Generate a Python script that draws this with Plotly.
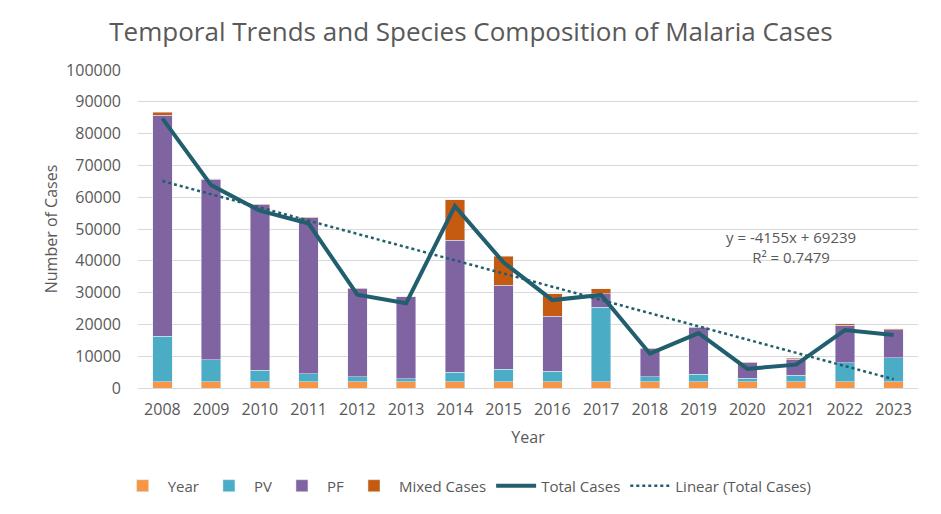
import plotly.graph_objects as go

years = [2008, 2009, 2010, 2011, 2012, 2013, 2014, 2015, 2016, 2017, 2018, 2019, 2020, 2021, 2022, 2023]
pv = [14300, 6800, 3650, 2400, 1550, 820, 3000, 3860, 3200, 23400, 1540, 2270, 1120, 1950, 5920, 7490]
pf = [69500, 56900, 52000, 49200, 27700, 25800, 41500, 26400, 17350, 4200, 8780, 14840, 4800, 5000, 11800, 8880]
mixed = [840, 100, 100, 100, 80, 60, 12700, 9200, 7100, 1670, 200, 150, 100, 400, 500, 300]
total = [84800, 63800, 55750, 51700, 29330, 26680, 57200, 39460, 27650, 29270, 10800, 17260, 6020, 7350, 18220, 16670]
# Excel linear trendline endpoints (y = -4155x + 69239, x = 1..16)
trend_x = [2008, 2023]
trend_y = [65084, 2759]

cats = [str(y) for y in years]
font = "'Open Sans', sans-serif"
grey = "#595959"

fig = go.Figure()
fig.add_trace(go.Bar(x=cats, y=years, name="Year", marker_color="#F79646"))
fig.add_trace(go.Bar(x=cats, y=pv, name="PV", marker_color="#4BACC6"))
fig.add_trace(go.Bar(x=cats, y=pf, name="PF", marker_color="#8064A2"))
fig.add_trace(go.Bar(x=cats, y=mixed, name="Mixed Cases", marker_color="#C55A11"))
fig.add_trace(go.Scatter(x=cats, y=total, name="Total Cases", mode="lines",
                         line=dict(color="#215F6E", width=4)))
fig.add_trace(go.Scatter(x=[str(v) for v in trend_x], y=trend_y, name="Linear (Total Cases)",
                         mode="lines", line=dict(color="#215F6E", width=2.5, dash="dot")))

fig.add_annotation(x=0.837, y=0.443, xref="paper", yref="paper", showarrow=False,
                   xanchor="center", yanchor="middle",
                   text="y = -4155x + 69239<br>R² = 0.7479", align="center",
                   font=dict(size=15, color=grey, family=font))

# the page body adds an 8px offset, so margins are trimmed on the left/top
fig.update_layout(
    width=941, height=514,
    barmode="stack", bargap=0.6,
    plot_bgcolor="white", paper_bgcolor="white",
    font=dict(family=font, color=grey, size=15),
    title=dict(text="Temporal Trends and Species Composition of Malaria Cases",
               x=0.492, xanchor="center", y=0.953, yanchor="middle",
               font=dict(size=26, color=grey)),
    margin=dict(l=130, r=31, t=62, b=134, autoexpand=False),
    legend=dict(orientation="h", x=0.422, xanchor="center", y=-0.308, yanchor="middle",
                font=dict(size=15, color=grey), traceorder="normal", itemwidth=40),
    xaxis=dict(type="category", title=dict(text="Year", standoff=12, font=dict(size=16)),
               tickfont=dict(size=16), ticklabelstandoff=7,
               showgrid=False, showline=True, linecolor="#d9d9d9", ticks="", automargin=False),
    yaxis=dict(range=[0, 100000], dtick=10000, tickformat="d",
               tickfont=dict(size=16), ticklabelstandoff=16,
               title=dict(text="Number of Cases", standoff=4, font=dict(size=16)),
               gridcolor="#d9d9d9", zeroline=False, ticks="", automargin=False),
)

fig.write_html("out.html")
